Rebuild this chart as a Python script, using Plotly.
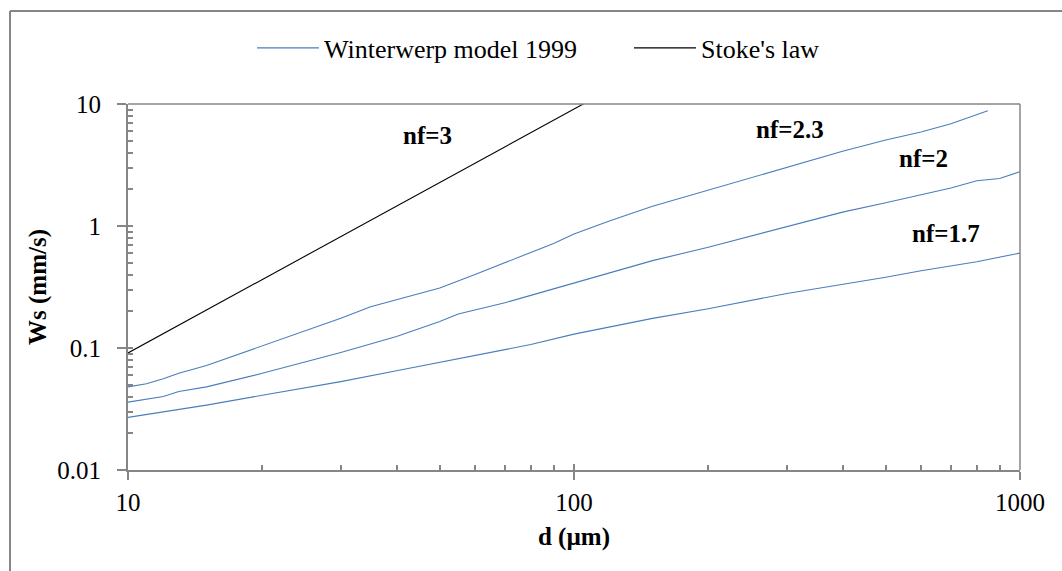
import math
import plotly.graph_objects as go

# ---------------- data ----------------
d_nf23 = [10, 11, 12, 13, 15, 20, 25, 30, 35, 40, 50, 60, 70, 80, 90, 100, 120, 150, 200, 250, 300, 400, 500, 600, 700, 847]
ws_nf23 = [0.048, 0.051, 0.056, 0.062, 0.072, 0.104, 0.138, 0.175, 0.218, 0.25, 0.31, 0.4, 0.5, 0.6, 0.72, 0.86, 1.1, 1.45, 1.97, 2.5, 3.05, 4.1, 5.07, 5.9, 6.9, 8.8]

d_nf2 = [10, 12, 13, 15, 20, 25, 30, 40, 50, 55, 60, 70, 80, 100, 150, 200, 300, 400, 500, 600, 700, 800, 900, 1000]
ws_nf2 = [0.036, 0.040, 0.044, 0.048, 0.062, 0.077, 0.092, 0.124, 0.165, 0.19, 0.205, 0.235, 0.27, 0.34, 0.52, 0.67, 0.99, 1.3, 1.55, 1.8, 2.05, 2.35, 2.45, 2.79]

d_nf17 = [10, 12, 15, 20, 25, 30, 40, 50, 60, 70, 80, 100, 150, 200, 300, 400, 500, 600, 700, 800, 1000]
ws_nf17 = [0.027, 0.030, 0.034, 0.041, 0.047, 0.053, 0.065, 0.076, 0.086, 0.097, 0.107, 0.13, 0.175, 0.21, 0.28, 0.33, 0.38, 0.43, 0.47, 0.51, 0.60]

d_stokes = [10, 20, 50, 100, 110]
ws_stokes = [0.091, 0.364, 2.28, 9.1, 11.0]

x_major = [10, 100, 1000]
x_major_text = ["10", "100", "1000"]
y_major = [0.01, 0.1, 1, 10]
y_major_text = ["0.01", "0.1", "1", "10"]
x_minor = [k * 10 ** e for e in (1, 2) for k in range(2, 10)]
y_minor = [k * 10 ** e for e in (-2, -1, 0) for k in range(2, 10)]

labels = [("nf=3", 47, 5.5), ("nf=2.3", 305, 6.2), ("nf=2", 609, 3.6), ("nf=1.7", 683, 0.86)]

# ---------------- figure ----------------
FONT = "Liberation Serif, Times New Roman, serif"
BLUE = "#4a7ebb"
AXC = "#868686"

fig = go.Figure()
fig.add_trace(go.Scatter(x=d_nf23, y=ws_nf23, mode="lines", name="Winterwerp model 1999",
                         line=dict(color=BLUE, width=1.1), legendgroup="w"))
fig.add_trace(go.Scatter(x=d_nf2, y=ws_nf2, mode="lines", name="Winterwerp model 1999",
                         line=dict(color=BLUE, width=1.1), legendgroup="w", showlegend=False))
fig.add_trace(go.Scatter(x=d_nf17, y=ws_nf17, mode="lines", name="Winterwerp model 1999",
                         line=dict(color=BLUE, width=1.1), legendgroup="w", showlegend=False))
fig.add_trace(go.Scatter(x=d_stokes, y=ws_stokes, mode="lines", name="Stoke's law",
                         line=dict(color="black", width=1.1)))
# dummy trace for overlay axes (inner half of the major ticks)
fig.add_trace(go.Scatter(x=[None], y=[None], xaxis="x2", yaxis="y2", showlegend=False,
                         hoverinfo="skip"))

# annotations on log axes are positioned in log10 units
for txt, xv, yv in labels:
    fig.add_annotation(x=math.log10(xv), y=math.log10(yv), xref="x", yref="y",
                       text="<b>%s</b>" % txt, showarrow=False,
                       font=dict(family=FONT, size=25, color="black"))

common_axis = dict(type="log", showgrid=False, zeroline=False, showline=True,
                   linecolor=AXC, linewidth=2, tickcolor=AXC, tickwidth=1.5,
                   tickfont=dict(family=FONT, size=25, color="black"))

fig.update_layout(
    width=1062, height=571,
    margin=dict(l=128, r=42, t=104, b=101),
    paper_bgcolor="white", plot_bgcolor="white",
    font=dict(family=FONT, size=25, color="black"),
    showlegend=True,
    legend=dict(orientation="h", x=0.139, y=1.153, xanchor="left", yanchor="middle",
                font=dict(family=FONT, size=26, color="black"), itemwidth=62,
                entrywidth=300, entrywidthmode="pixels",
                bgcolor="rgba(0,0,0,0)"),
    xaxis=dict(common_axis, range=[1, 3], tickmode="array", tickvals=x_major,
               ticktext=x_major_text, ticks="outside", ticklen=8, ticklabelstandoff=1,
               minor=dict(tickmode="array", tickvals=x_minor, ticks="inside", ticklen=5,
                          tickcolor=AXC, tickwidth=1.5),
               title=dict(text="<b>d (µm)</b>", font=dict(family=FONT, size=25), standoff=12)),
    yaxis=dict(common_axis, range=[-2, 1], tickmode="array", tickvals=y_major,
               ticktext=y_major_text, ticks="outside", ticklen=9, ticklabelstandoff=11,
               minor=dict(tickmode="array", tickvals=y_minor, ticks="inside", ticklen=5,
                          tickcolor=AXC, tickwidth=1.5),
               title=dict(text="<b>Ws (mm/s)</b>", font=dict(family=FONT, size=25), standoff=4)),
    xaxis2=dict(type="log", range=[1, 3], overlaying="x", anchor="y", side="bottom",
                tickmode="array", tickvals=x_major, ticks="inside", ticklen=6,
                tickcolor=AXC, tickwidth=1.5, showticklabels=False, showgrid=False,
                zeroline=False, showline=False),
    yaxis2=dict(type="log", range=[-2, 1], overlaying="y", anchor="x", side="left",
                tickmode="array", tickvals=y_major, ticks="inside", ticklen=5,
                tickcolor=AXC, tickwidth=1.5, showticklabels=False, showgrid=False,
                zeroline=False, showline=False),
)

# plot-area frame (top and right edges) and outer chart border
PW, PH = 892.0, 366.0
fig.add_shape(type="line", xref="paper", yref="paper", x0=0, x1=1, y0=1, y1=1,
              line=dict(color=AXC, width=1.5))
fig.add_shape(type="line", xref="paper", yref="paper", x0=1, x1=1, y0=0, y1=1,
              line=dict(color=AXC, width=1.5))
bx0 = (10 - 128) / PW
by_top = (470 - 11) / PH
by_bot = (470 - 575) / PH
bx1 = (1070 - 128) / PW
fig.add_shape(type="line", xref="paper", yref="paper", x0=bx0, x1=bx1, y0=by_top, y1=by_top,
              line=dict(color=AXC, width=2))
fig.add_shape(type="line", xref="paper", yref="paper", x0=bx0, x1=bx0, y0=by_bot, y1=by_top,
              line=dict(color=AXC, width=2))

fig.write_html("out.html")
